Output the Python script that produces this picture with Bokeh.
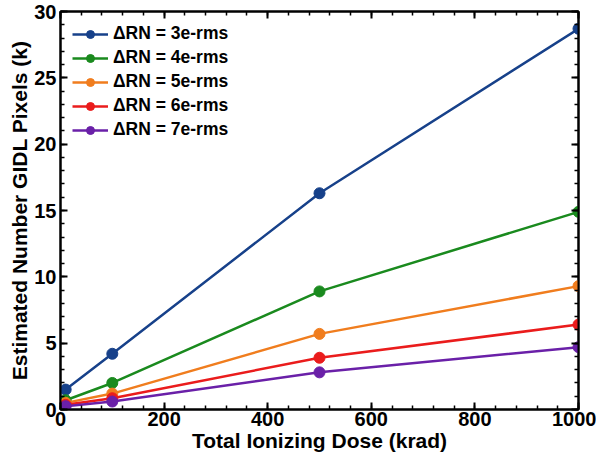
from bokeh.plotting import figure
from bokeh.models import LinearAxis, Range1d, Legend, LegendItem, SingleIntervalTicker, CustomJSTickFormatter
from bokeh.embed import file_html
from bokeh.resources import INLINE

dose = [10, 100, 500, 1000]
rn3 = [1.5, 4.2, 16.3, 28.7]
rn4 = [0.7, 2.0, 8.9, 14.9]
rn5 = [0.5, 1.2, 5.7, 9.3]
rn6 = [0.35, 0.85, 3.9, 6.4]
rn7 = [0.25, 0.6, 2.8, 4.7]
labels = ["ΔRN = 3e-rms", "ΔRN = 4e-rms", "ΔRN = 5e-rms", "ΔRN = 6e-rms", "ΔRN = 7e-rms"]
colors = ["#17418a", "#1a8a1e", "#f07d1e", "#ea1c1c", "#6a20a8"]
series = [rn3, rn4, rn5, rn6, rn7]

FONT = "Liberation Sans"

p = figure(width=596, height=454, output_backend="svg", toolbar_location=None,
           x_range=Range1d(0, 1000), y_range=Range1d(0, 30),
           min_border_left=60, min_border_right=18, min_border_top=11, min_border_bottom=10)
p.grid.visible = False
p.outline_line_color = "black"
p.outline_line_width = 2
p.background_fill_color = "white"
p.border_fill_color = "white"

items = []
for ys, c, lab in zip(series, colors, labels):
    r1 = p.line(dose, ys, line_color=c, line_width=2.5)
    r2 = p.scatter(dose, ys, size=11, fill_color=c, line_color=c)
    items.append(LegendItem(label=lab, renderers=[r1, r2]))

def style(ax, show):
    ax.axis_line_width = 2
    ax.axis_line_color = "black"
    ax.major_tick_in = 7
    ax.major_tick_out = 0
    ax.minor_tick_in = 4
    ax.minor_tick_out = 0
    ax.major_tick_line_width = 2
    ax.minor_tick_line_width = 1.5
    ax.major_label_text_font = FONT
    ax.major_label_text_font_style = "bold"
    ax.major_label_text_font_size = "20px"
    ax.major_label_text_color = "black"
    ax.axis_label_text_font = FONT
    ax.axis_label_text_font_style = "bold"
    ax.axis_label_text_font_size = "21px"
    ax.axis_label_text_color = "black"
    ax.axis_label_standoff = 0
    ax.major_label_standoff = 2 if show else 0
    if not show:
        ax.formatter = CustomJSTickFormatter(code="return '';")

p.xaxis.ticker = SingleIntervalTicker(interval=200, num_minor_ticks=5)
p.yaxis.ticker = SingleIntervalTicker(interval=5, num_minor_ticks=5)
style(p.xaxis[0], True)
style(p.yaxis[0], True)
p.yaxis.major_label_standoff = 4
p.xaxis.axis_label = "Total Ionizing Dose (krad)"
p.yaxis.axis_label = "Estimated Number GIDL Pixels (k)"

top = LinearAxis(ticker=SingleIntervalTicker(interval=200, num_minor_ticks=5))
right = LinearAxis(ticker=SingleIntervalTicker(interval=5, num_minor_ticks=5))
style(top, False)
style(right, False)
p.add_layout(top, "above")
p.add_layout(right, "right")

legend = Legend(items=items, location="top_left")
legend.label_text_font = FONT
legend.label_text_font_style = "bold"
legend.label_text_font_size = "17.5px"
legend.label_text_color = "black"
legend.border_line_color = None
legend.background_fill_alpha = 0
legend.glyph_width = 36
legend.spacing = 3
legend.padding = 8
legend.margin = 12
legend.label_standoff = 5
p.add_layout(legend)

open("out.html", "w").write(file_html(p, INLINE))
